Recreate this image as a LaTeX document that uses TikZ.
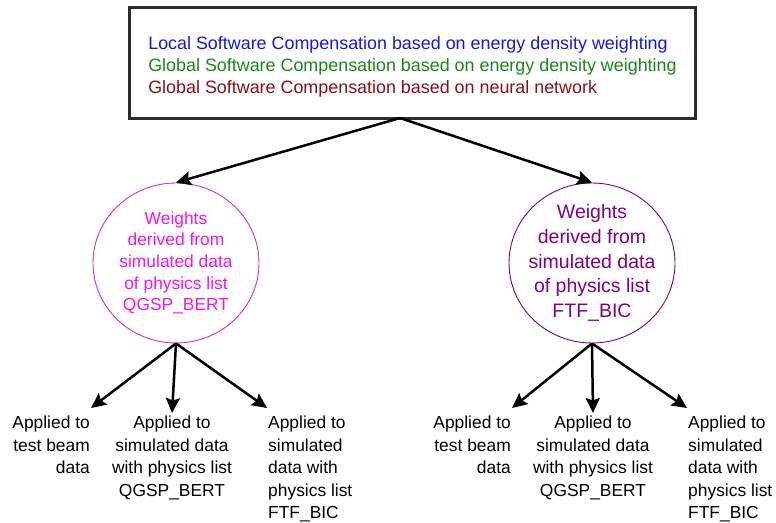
\documentclass[tikz,border=0pt]{standalone}
\usepackage{fontspec}
\setmainfont{Liberation Sans}
\usepackage{tikz}
\usetikzlibrary{arrows.meta, shapes.geometric}
\definecolor{boxgray}{RGB}{45,45,45}
\definecolor{lswblue}{RGB}{20,20,235}
\definecolor{gswgreen}{RGB}{25,135,25}
\definecolor{nnred}{RGB}{140,15,15}
\definecolor{qgspmag}{RGB}{240,20,240}
\definecolor{qgspline}{RGB}{200,50,200}
\definecolor{ftfpurple}{RGB}{128,0,128}
\tikzset{headbox/.style = {draw = boxgray, line width = 3pt, minimum width = 566pt, minimum height = 111pt, align = left, font = \fontsize{17.9}{22}\selectfont}}
\tikzset{weights/.style = {shape = ellipse, draw, line width = 0.9pt, minimum width = 166pt, minimum height = 160pt, inner sep = -5pt, align = center}}
\tikzset{applied/.style = {inner xsep = 1pt, inner ysep = 8pt, font = \fontsize{17.4}{22.5}\selectfont}}
\tikzset{edge/.style = {-{Stealth[length = 15pt, width = 14pt, inset = 2.5pt]}, line width = 2.5pt}}

\begin{document}
\begin{tikzpicture}[x = 1pt, y = -1pt]
				\useasboundingbox (0, 0) rectangle (776, 522);

				\node[headbox] (top) at (412.5, 62.5) {\rule{0pt}{21pt}{\color{lswblue}Local Software Compensation based on energy density weighting}\\
					{\color{gswgreen}Global Software Compensation based on energy density weighting}\\
					{\color{nnred}Global Software Compensation based on neural network}};
				\coordinate (fork) at (400, 118);

				\node[weights, draw = qgspline, text = qgspmag, font = \fontsize{17.4}{21.7}\selectfont] (wl) at (176, 263) {Weights\\derived from\\simulated data\\of physics list\\QGSP\_BERT};
				\node[weights, draw = ftfpurple, text = ftfpurple, font = \fontsize{19.5}{24.6}\selectfont] (wr) at (592, 263) {Weights\\derived from\\simulated data\\of physics list\\FTF\_BIC};

				\node[applied, anchor = north east, align = right] (la) at (91, 408) {Applied to\\test beam\\data};
				\node[applied, anchor = north, align = center, inner ysep = 3pt] (lb) at (172, 413) {Applied to\\simulated data\\with physics list\\QGSP\_BERT};
				\node[applied, anchor = north west, align = left] (lc) at (267, 408) {Applied to\\simulated\\data with\\physics list\\FTF\_BIC};

				\node[applied, anchor = north east, align = right] (ra) at (512, 408) {Applied to\\test beam\\data};
				\node[applied, anchor = north, align = center, inner ysep = 3pt] (rb) at (593, 413) {Applied to\\simulated data\\with physics list\\QGSP\_BERT};
				\node[applied, anchor = north west, align = left] (rc) at (687, 408) {Applied to\\simulated\\data with\\physics list\\FTF\_BIC};

				\draw[edge] (fork) to (wl.north);
				\draw[edge] (fork) to (wr.north);
				\draw[edge] (wl.south) to (la.north east);
				\draw[edge] (wl.south) to (lb.north);
				\draw[edge] (wl.south) to (lc.north west);
				\draw[edge] (wr.south) to (ra.north east);
				\draw[edge] (wr.south) to (rb.north);
				\draw[edge] (wr.south) to (rc.north west);
			\end{tikzpicture}
\end{document}
